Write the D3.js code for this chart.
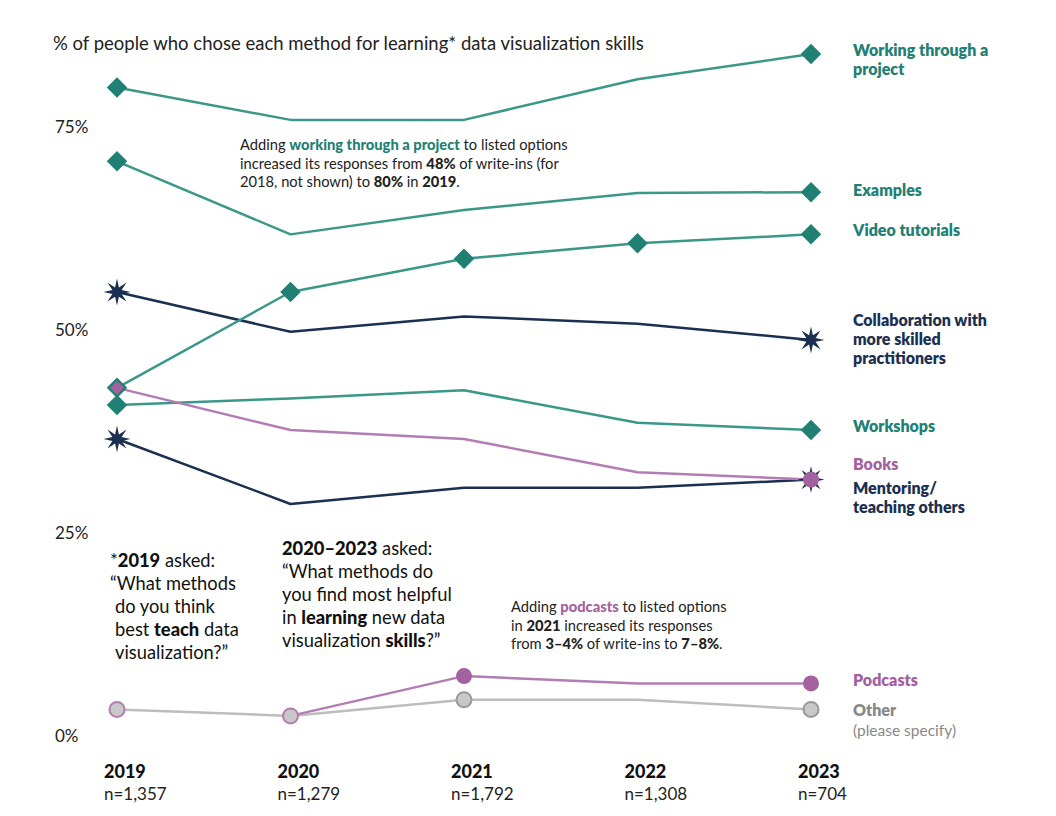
<!DOCTYPE html>
<html>
<head>
<meta charset="utf-8">
<script src="https://cdn.jsdelivr.net/npm/d3@7.9.0/dist/d3.min.js"></script>
<style>
  body { margin: 0; background: #fff; }
  svg { font-family: Lato, "Open Sans", sans-serif; }
</style>
</head>
<body>
<svg id="chart" width="1056" height="816"></svg>
<script>
// data
const years = [2019, 2020, 2021, 2022, 2023];
const sampleSizes = ['n=1,357', 'n=1,279', 'n=1,792', 'n=1,308', 'n=704'];
const yTicks = [0, 25, 50, 75];

const working = [80, 76, 76, 81, 84.1];
const examples = [70.9, 61.9, 64.9, 67, 67.1];
const videoTutorials = [43, 54.8, 58.9, 60.8, 61.9];
const collaboration = [54.8, 49.9, 51.8, 50.9, 48.9];
const workshops = [40.9, 41.7, 42.7, 38.7, 37.8];
const books = [43, 37.8, 36.7, 32.6, 31.7];
const mentoring = [36.7, 28.7, 30.7, 30.7, 31.7];
const podcasts = [null, 2.6, 7.5, 6.6, 6.6];
const other = [3.4, 2.6, 4.6, 4.6, 3.4];

const teal = '#218074', tealLine = '#3b978a';
const navy = '#1b3050';
const purple = '#a3619f', purpleLine = '#b27db3';
const greyLine = '#bdbdbd';

// series: values, colours, marker type & which years carry markers, label
const series = [
  { name: 'working', values: working, line: tealLine, color: teal, marker: 'diamond', marks: [0, 4],
    label: ['Working through a', 'project'], shift: -3 },
  { name: 'examples', values: examples, line: tealLine, color: teal, marker: 'diamond', marks: [0, 4],
    label: ['Examples'], shift: -1 },
  { name: 'collab', values: collaboration, line: navy, color: navy, marker: 'star', marks: [0, 4],
    label: ['Collaboration with', 'more skilled', 'practitioners'], shift: -19 },
  { name: 'workshops', values: workshops, line: tealLine, color: teal, marker: 'diamond', marks: [0, 4],
    label: ['Workshops'], shift: -3 },
  { name: 'mentoring', values: mentoring, line: navy, color: navy, marker: 'star', marks: [0, 4],
    label: ['Mentoring/', 'teaching others'], shift: 9 },
  { name: 'video', values: videoTutorials, line: tealLine, color: teal, marker: 'diamond', marks: [0, 1, 2, 3, 4],
    label: ['Video tutorials'], shift: -3 },
  { name: 'books', values: books, line: purpleLine, color: purple, marker: 'books', marks: [0, 4],
    label: ['Books'], shift: -15, labelColor: purple },
  { name: 'other', values: other, line: greyLine, color: '#c8c8c8', marker: 'circle', marks: [0, 1, 2, 4],
    label: ['Other'], shift: 2, labelColor: '#888' },
  { name: 'podcasts', values: podcasts, line: purpleLine, color: purple, marker: 'circle', marks: [2, 4],
    label: ['Podcasts'], shift: -2, labelColor: purple }
];

const svg = d3.select('#chart');

const x = d3.scalePoint().domain(years).range([117, 811]);
const y = d3.scaleLinear().domain([0, 75]).range([737, 128]);

// title
svg.append('text')
  .attr('x', 53).attr('y', 50)
  .attr('font-size', 18.5)
  .attr('fill', '#222')
  .text('% of people who chose each method for learning* data visualization skills');

// y tick labels
svg.selectAll('.ytick')
  .data(yTicks)
  .join('text')
  .attr('class', 'ytick')
  .attr('x', 55)
  .attr('y', (d) => y(d) + 5)
  .attr('font-size', 17)
  .attr('fill', '#222')
  .text((d) => d + '%');

// x labels
const xl = svg.selectAll('.xlab').data(years).join('g')
  .attr('class', 'xlab')
  .attr('transform', (d) => `translate(${x(d) - 13},0)`);
xl.append('text').attr('y', 778).attr('font-size', 18).attr('font-weight', 900).attr('fill', '#111').text((d) => d);
xl.append('text').attr('y', 800).attr('font-size', 17).attr('fill', '#222').text((d, i) => sampleSizes[i]);

// lines
const line = d3.line()
  .defined((d) => d != null)
  .x((d, i) => x(years[i]))
  .y((d) => y(d));

series.forEach((s) => {
  svg.append('path')
    .attr('d', line(s.values))
    .attr('fill', 'none')
    .attr('stroke', s.line)
    .attr('stroke-width', 2.5)
    .attr('stroke-linejoin', 'round');
});

// marker shapes
const diamond = d3.symbol().type(d3.symbolSquare).size(210);
const smallDiamond = d3.symbol().type(d3.symbolSquare).size(95);
const starPath = d3.lineRadial().curve(d3.curveLinearClosed)(
  d3.range(16).map((i) => [i * Math.PI / 8, i % 2 === 0 ? 13.5 : 5])
);

function drawMarker(s, i) {
  const cx = x(years[i]), cy = y(s.values[i]);
  const g = svg.append('g').attr('transform', `translate(${cx},${cy})`);
  if (s.marker === 'diamond') {
    g.append('path').attr('d', diamond()).attr('transform', 'rotate(45)').attr('fill', s.color);
  } else if (s.marker === 'star') {
    g.append('path').attr('d', starPath).attr('fill', s.color);
  } else if (s.marker === 'books') {
    if (i === 0) {
      g.append('path').attr('d', smallDiamond()).attr('transform', 'rotate(45)').attr('fill', purple);
    } else {
      g.append('circle').attr('r', 8).attr('fill', purple);
    }
  } else if (s.name === 'other') {
    g.append('circle').attr('r', 7.5)
      .attr('fill', '#c8c8c8')
      .attr('stroke', i < 2 ? purpleLine : '#999')
      .attr('stroke-width', 2);
  } else {
    g.append('circle').attr('r', 8).attr('fill', s.color);
  }
}

series.forEach((s) => s.marks.forEach((i) => drawMarker(s, i)));

// right-hand labels
series.forEach((s) => {
  const base = y(s.values[4]) + s.shift + 5;
  const t = svg.append('text')
    .attr('x', 853)
    .attr('font-size', 16)
    .attr('font-weight', 800)
    .attr('fill', s.labelColor || s.color);
  s.label.forEach((l, k) => {
    t.append('tspan').attr('x', 853).attr('y', base + k * 19).text(l);
  });
});
svg.append('text')
  .attr('x', 853).attr('y', y(other[4]) + 2 + 5 + 20)
  .attr('font-size', 15.5).attr('fill', '#888')
  .text('(please specify)');

// rich-text helper: segments [text, bold, colour]
function rich(xPos, yPos, lh, size, lines, color) {
  const t = svg.append('text').attr('font-size', size).attr('fill', color || '#222');
  lines.forEach((segs, k) => {
    segs.forEach((seg, j) => {
      const ts = t.append('tspan').text(seg[0]);
      if (j === 0) ts.attr('x', Array.isArray(xPos) ? xPos[k] : xPos).attr('y', yPos + k * lh);
      if (seg[1]) ts.attr('font-weight', 900);
      if (seg[2]) ts.attr('fill', seg[2]);
    });
  });
}

rich(240, 150, 18.5, 14.7, [
  [['Adding '], ['working through a project', true, teal], [' to listed options']],
  [['increased its responses from '], ['48%', true], [' of write-ins (for']],
  [['2018, not shown) to '], ['80%', true], [' in '], ['2019', true], ['.']]
]);

rich(511, 612, 18.5, 14.7, [
  [['Adding '], ['podcasts', true, purple], [' to listed options']],
  [['in '], ['2021', true], [' increased its responses']],
  [['from '], ['3–4%', true], [' of write-ins to '], ['7–8%', true], ['.']]
]);

rich([110, 110, 115, 115, 115], 567, 23, 18.3, [
  [['*'], ['2019', true], [' asked:']],
  [['“What methods']],
  [['do you think']],
  [['best '], ['teach', true], [' data']],
  [['visualization?”']]
], '#111');

rich(282, 555, 23, 18.3, [
  [['2020–2023', true], [' asked:']],
  [['“What methods do']],
  [['you find most helpful']],
  [['in '], ['learning', true], [' new data']],
  [['visualization '], ['skills', true], ['?”']]
], '#111');
</script>
</body>
</html>
